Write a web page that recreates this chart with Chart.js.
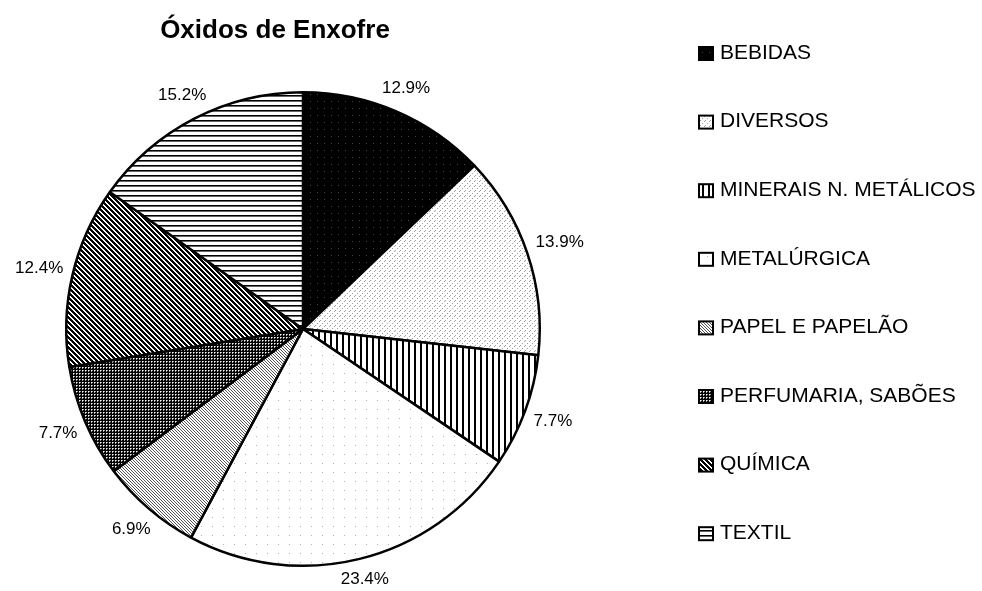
<!DOCTYPE html>
<html lang="pt">
<head>
<meta charset="UTF-8">
<title>Óxidos de Enxofre</title>
<script src="https://cdn.jsdelivr.net/npm/chart.js"></script>
<style>
  html, body { margin: 0; padding: 0; background: #fff; }
  #wrap { width: 982px; height: 591px; }
</style>
</head>
<body>
<div id="wrap"><canvas id="pizza" width="982" height="591"></canvas></div>
<script>
const titulo = 'Óxidos de Enxofre';
const setores = ['BEBIDAS', 'DIVERSOS', 'MINERAIS N. METÁLICOS', 'METALÚRGICA',
  'PAPEL E PAPELÃO', 'PERFUMARIA, SABÕES', 'QUÍMICA', 'TEXTIL'];
const percentuais = [12.9, 13.9, 7.7, 23.4, 6.9, 7.7, 12.4, 15.2];

const FONTE = '"Liberation Sans", Arial, sans-serif';

// hachuras estilo Excel (pequenos ladrilhos repetidos)
function padrao(w, h, pinta) {
  const c = document.createElement('canvas');
  c.width = w; c.height = h;
  const g = c.getContext('2d');
  g.fillStyle = '#fff';
  g.fillRect(0, 0, w, h);
  pinta(g);
  return g.createPattern(c, 'repeat');
}
const px = (g, cor, lista) => { g.fillStyle = cor; lista.forEach(([x, y]) => g.fillRect(x, y, 1, 1)); };

const padroes = [
  padrao(7, 7, g => { g.fillStyle = '#000'; g.fillRect(0, 0, 7, 7); px(g, '#444', [[2, 3]]); }),
  padrao(5, 5, g => px(g, '#a0a0a0', [[0, 0], [2, 3], [4, 1]])),
  padrao(6, 1, g => { g.fillStyle = '#000'; g.fillRect(0, 0, 2, 1); }),
  padrao(11, 9, g => px(g, '#b0b0b0', [[3, 4]])),
  padrao(3, 3, g => px(g, '#555', [[0, 0], [1, 1], [2, 2]])),
  padrao(3, 3, g => { g.fillStyle = '#000'; g.fillRect(0, 0, 3, 3); px(g, '#fff', [[1, 1]]); px(g, '#999', [[2, 1], [1, 2]]); }),
  padrao(5, 5, g => {
    const l = [];
    for (let y = 0; y < 5; y++) for (let x = 0; x < 5; x++) if ((x - y + 5) % 5 < 3) l.push([x, y]);
    px(g, '#000', l);
  }),
  padrao(1, 5, g => { px(g, '#000', [[0, 0]]); px(g, '#666', [[0, 1]]); })
];

// rótulos de porcentagem fora da pizza
const rotulos = {
  id: 'rotulos',
  afterDatasetsDraw(chart) {
    const ctx = chart.ctx;
    const meta = chart.getDatasetMeta(0);
    ctx.save();
    ctx.font = '17px ' + FONTE;
    ctx.fillStyle = '#000';
    ctx.textAlign = 'center';
    ctx.textBaseline = 'middle';
    meta.data.forEach((arc, i) => {
      const p = arc.getProps(['x', 'y', 'startAngle', 'endAngle', 'outerRadius'], true);
      const meio = (p.startAngle + p.endAngle) / 2;
      const txt = percentuais[i].toFixed(1) + '%';
      const w = ctx.measureText(txt).width;
      const dx = Math.cos(meio), dy = Math.sin(meio);
      const d = p.outerRadius + 9 + Math.abs(dx) * w / 2 + Math.abs(dy) * 7;
      ctx.fillText(txt, p.x + dx * d, p.y + dy * d);
    });
    ctx.restore();
  }
};

// título e legenda à direita
const extras = {
  id: 'extras',
  afterDraw(chart) {
    const ctx = chart.ctx;
    ctx.save();
    ctx.fillStyle = '#000';
    ctx.font = 'bold 26px ' + FONTE;
    ctx.textAlign = 'center';
    ctx.textBaseline = 'alphabetic';
    ctx.fillText(titulo, 275, 38);

    ctx.font = '21px ' + FONTE;
    ctx.textAlign = 'left';
    ctx.textBaseline = 'middle';
    setores.forEach((s, i) => {
      const y = 53 + i * 68.6;
      ctx.fillStyle = padroes[i];
      ctx.fillRect(699, y - 6, 14, 13);
      ctx.strokeStyle = '#000';
      ctx.lineWidth = 2;
      ctx.strokeRect(699, y - 6, 14, 13);
      ctx.fillStyle = '#000';
      ctx.fillText(s, 720, y);
    });
    ctx.restore();
  }
};

new Chart(document.getElementById('pizza'), {
  type: 'pie',
  data: {
    labels: setores,
    datasets: [{
      data: percentuais,
      backgroundColor: padroes,
      borderColor: '#000',
      borderWidth: 2.5
    }]
  },
  options: {
    responsive: false,
    animation: false,
    layout: { padding: { left: 65, right: 441, top: 91, bottom: 24 } },
    plugins: {
      legend: { display: false },
      tooltip: { enabled: false }
    }
  },
  plugins: [rotulos, extras]
});
</script>
</body>
</html>
